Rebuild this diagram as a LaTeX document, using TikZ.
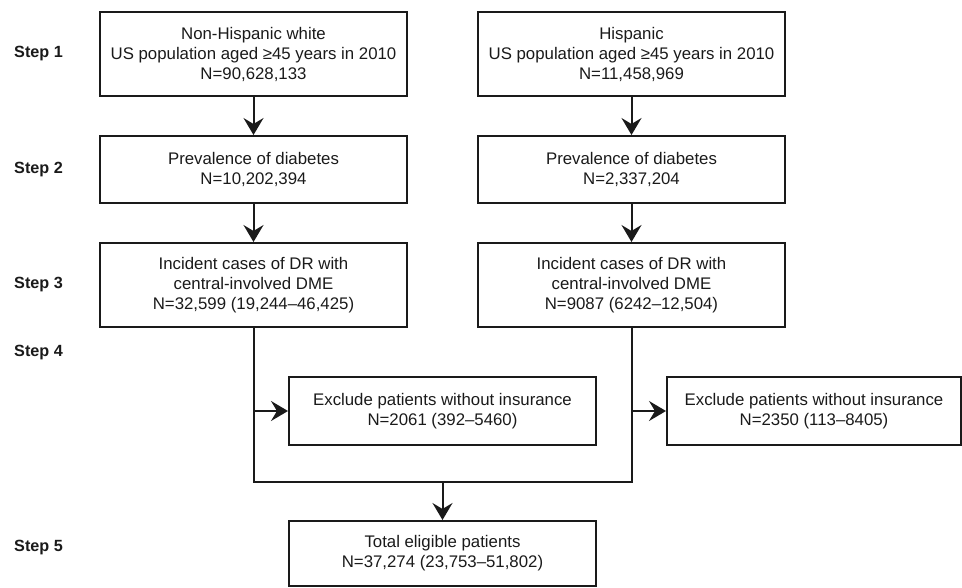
\documentclass[tikz,border=0pt]{standalone}
\usepackage{fontspec}
\setmainfont{Liberation Sans}
\usetikzlibrary{arrows.meta}
\definecolor{ink}{HTML}{1A1A1A}
\begin{document}
\begin{tikzpicture}[x=1pt,y=-1pt,
  box/.style={draw=ink, line width=2pt, text=ink, align=center, inner sep=0pt,
    minimum width=307pt, font=\fontsize{16.8}{20}\selectfont},
  steplabel/.style={anchor=west, text=ink, inner sep=0pt, font=\fontsize{16.2}{19}\selectfont\bfseries},
  line/.style={draw=ink, line width=2pt},
  arr/.style={line, -{Stealth[length=17pt,width=20pt,inset=6pt]}}]
\useasboundingbox (0,0) rectangle (962,587);
% step labels
\node[steplabel] (s1) at (14,54) {Step 1};
\node[steplabel] (s2) at (14,170) {Step 2};
\node[steplabel] (s3) at (14,285) {Step 3};
\node[steplabel] (s4) at (14,353) {Step 4};
\node[steplabel] (s5) at (14,548) {Step 5};
% left column
\node[box, minimum height=84pt] (L1) at (253.5,54) {Non-Hispanic white\\US population aged ≥45 years in 2010\\N=90,628,133};
\node[box, minimum height=67pt] (L2) at (253.5,169.5) {Prevalence of diabetes\\N=10,202,394};
\node[box, minimum height=84pt] (L3) at (253.5,285) {Incident cases of DR with\\central-involved DME\\N=32,599 (19,244–46,425)};
% right column
\node[box, minimum height=84pt] (R1) at (631.5,54) {Hispanic\\US population aged ≥45 years in 2010\\N=11,458,969};
\node[box, minimum height=67pt] (R2) at (631.5,169.5) {Prevalence of diabetes\\N=2,337,204};
\node[box, minimum height=84pt] (R3) at (631.5,285) {Incident cases of DR with\\central-involved DME\\N=9087 (6242–12,504)};
% exclusions
\node[box, minimum height=68pt] (E1) at (442.5,411) {Exclude patients without insurance\\N=2061 (392–5460)};
\node[box, minimum height=68pt, minimum width=294pt] (E2) at (814,411) {Exclude patients without insurance\\N=2350 (113–8405)};
% total
\node[box, minimum height=65pt] (T) at (442.5,553.5) {Total eligible patients\\N=37,274 (23,753–51,802)};
% connectors
\draw[arr] (L1) -- (L2);
\draw[arr] (L2) -- (L3);
\draw[arr] (R1) -- (R2);
\draw[arr] (R2) -- (R3);
\coordinate (m) at (442.5,482);
\draw[line] (L3.south) -- (L3.south |- m) -- (R3.south |- m) -- (R3.south);
\draw[arr] (L3.south |- E1.west) -- (E1.west);
\draw[arr] (R3.south |- E2.west) -- (E2.west);
\draw[arr] (m) -- (T.north);
\end{tikzpicture}
\end{document}
